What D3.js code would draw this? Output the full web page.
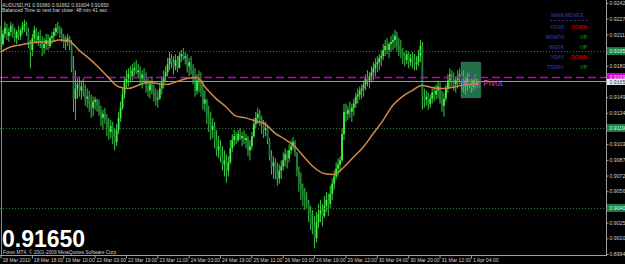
<!DOCTYPE html>
<html>
<head>
<meta charset="utf-8">
<script src="https://cdn.jsdelivr.net/npm/d3@7"></script>
<style>
  html, body { margin: 0; padding: 0; background: #000; }
  svg { display: block; }
  text { font-family: "Liberation Sans", Arial, sans-serif; }
</style>
</head>
<body>
<svg id="chart"></svg>
<script>
// AUDUSD H1 bars, 18 Mar 2010 - 1 Apr 2010
const firstOpen = 0.9210;

const highs = [
  0.9220,0.9216,0.9224,0.9222,0.9218,0.9224,0.9222,0.9218,0.9216,0.9220,
  0.9218,0.9224,0.9226,0.9224,0.9218,0.9206,0.9212,0.9220,0.9218,0.9214,
  0.9216,0.9210,0.9208,0.9212,0.9212,0.9210,0.9214,0.9218,0.9222,0.9224,
  0.9220,0.9218,0.9212,0.9210,0.9212,0.9210,0.9206,0.9190,0.9176,0.9168,
  0.9170,0.9166,0.9168,0.9162,0.9158,0.9156,0.9152,0.9150,0.9150,0.9148,
  0.9147,0.9141,0.9137,0.9139,0.9133,0.9129,0.9127,0.9125,0.9119,0.9123,
  0.9135,0.9145,0.9158,0.9170,0.9176,0.9178,0.9180,0.9182,0.9184,0.9186,
  0.9182,0.9180,0.9176,0.9178,0.9174,0.9168,0.9166,0.9170,0.9162,0.9158,
  0.9156,0.9164,0.9170,0.9176,0.9180,0.9188,0.9194,0.9192,0.9190,0.9192,
  0.9190,0.9194,0.9196,0.9198,0.9194,0.9192,0.9188,0.9190,0.9182,0.9178,
  0.9172,0.9176,0.9174,0.9166,0.9156,0.9148,0.9141,0.9135,0.9129,0.9125,
  0.9117,0.9111,0.9107,0.9101,0.9097,0.9093,0.9091,0.9107,0.9113,0.9117,
  0.9115,0.9117,0.9119,0.9115,0.9117,0.9113,0.9111,0.9107,0.9115,0.9129,
  0.9135,0.9139,0.9137,0.9131,0.9127,0.9125,0.9121,0.9109,0.9097,0.9091,
  0.9089,0.9085,0.9083,0.9087,0.9095,0.9099,0.9097,0.9103,0.9107,0.9110,
  0.9107,0.9095,0.9081,0.9075,0.9064,0.9060,0.9056,0.9048,0.9042,0.9038,
  0.9032,0.9036,0.9044,0.9048,0.9044,0.9052,0.9056,0.9054,0.9062,0.9069,
  0.9077,0.9085,0.9089,0.9091,0.9119,0.9143,0.9143,0.9141,0.9145,0.9143,
  0.9148,0.9154,0.9158,0.9160,0.9162,0.9166,0.9172,0.9176,0.9174,0.9180,
  0.9184,0.9188,0.9190,0.9192,0.9196,0.9202,0.9206,0.9208,0.9204,0.9210,
  0.9212,0.9216,0.9214,0.9208,0.9206,0.9198,0.9194,0.9196,0.9194,0.9192,
  0.9194,0.9192,0.9190,0.9196,0.9206,0.9204,0.9158,0.9156,0.9154,0.9152,
  0.9158,0.9160,0.9162,0.9166,0.9164,0.9156,0.9154,0.9162,0.9172,0.9178,
  0.9176,0.9174,0.9170,0.9176,0.9178,0.9174,0.9176,0.9170,0.9174,0.9172,
  0.9168,0.9170,0.9172,0.9168
];

const lows = [
  0.9196,0.9200,0.9208,0.9206,0.9204,0.9210,0.9208,0.9204,0.9202,0.9206,
  0.9206,0.9212,0.9214,0.9210,0.9198,0.9178,0.9190,0.9204,0.9202,0.9200,
  0.9198,0.9190,0.9192,0.9196,0.9196,0.9198,0.9202,0.9204,0.9210,0.9212,
  0.9208,0.9204,0.9198,0.9196,0.9200,0.9196,0.9174,0.9135,0.9127,0.9148,
  0.9150,0.9147,0.9150,0.9141,0.9139,0.9135,0.9129,0.9131,0.9137,0.9135,
  0.9131,0.9121,0.9117,0.9123,0.9111,0.9107,0.9109,0.9103,0.9097,0.9101,
  0.9113,0.9125,0.9137,0.9148,0.9158,0.9160,0.9164,0.9166,0.9170,0.9172,
  0.9168,0.9162,0.9158,0.9164,0.9154,0.9150,0.9148,0.9152,0.9145,0.9141,
  0.9139,0.9147,0.9152,0.9158,0.9164,0.9170,0.9176,0.9178,0.9172,0.9176,
  0.9174,0.9180,0.9184,0.9186,0.9182,0.9174,0.9170,0.9172,0.9162,0.9150,
  0.9152,0.9154,0.9150,0.9137,0.9135,0.9123,0.9115,0.9107,0.9109,0.9099,
  0.9091,0.9089,0.9085,0.9077,0.9071,0.9065,0.9071,0.9083,0.9095,0.9101,
  0.9103,0.9105,0.9107,0.9101,0.9103,0.9099,0.9091,0.9087,0.9097,0.9109,
  0.9119,0.9123,0.9121,0.9113,0.9109,0.9111,0.9103,0.9087,0.9073,0.9069,
  0.9068,0.9062,0.9064,0.9069,0.9077,0.9081,0.9079,0.9085,0.9093,0.9097,
  0.9091,0.9071,0.9056,0.9048,0.9042,0.9038,0.9040,0.9026,0.9018,0.9014,
  0.9000,0.9006,0.9020,0.9026,0.9022,0.9030,0.9036,0.9032,0.9040,0.9048,
  0.9058,0.9068,0.9071,0.9075,0.9085,0.9107,0.9125,0.9127,0.9129,0.9125,
  0.9131,0.9139,0.9143,0.9147,0.9148,0.9150,0.9156,0.9160,0.9158,0.9164,
  0.9166,0.9170,0.9174,0.9176,0.9180,0.9186,0.9190,0.9192,0.9188,0.9194,
  0.9196,0.9198,0.9194,0.9190,0.9188,0.9182,0.9180,0.9182,0.9178,0.9180,
  0.9178,0.9176,0.9176,0.9180,0.9184,0.9137,0.9139,0.9141,0.9137,0.9139,
  0.9143,0.9145,0.9147,0.9148,0.9143,0.9135,0.9130,0.9145,0.9154,0.9158,
  0.9160,0.9156,0.9154,0.9158,0.9162,0.9156,0.9154,0.9152,0.9156,0.9158,
  0.9154,0.9156,0.9158,0.9160
];

const closes = [
  0.9202,0.9212,0.9218,0.9210,0.9214,0.9220,0.9212,0.9208,0.9214,0.9210,
  0.9216,0.9220,0.9222,0.9214,0.9202,0.9196,0.9208,0.9216,0.9206,0.9210,
  0.9204,0.9198,0.9202,0.9206,0.9200,0.9208,0.9210,0.9214,0.9218,0.9216,
  0.9212,0.9208,0.9204,0.9206,0.9208,0.9202,0.9178,0.9148,0.9158,0.9162,
  0.9156,0.9160,0.9154,0.9148,0.9150,0.9143,0.9139,0.9145,0.9147,0.9141,
  0.9135,0.9129,0.9133,0.9127,0.9119,0.9115,0.9121,0.9111,0.9105,0.9117,
  0.9129,0.9139,0.9152,0.9164,0.9168,0.9172,0.9170,0.9176,0.9178,0.9174,
  0.9176,0.9168,0.9172,0.9166,0.9160,0.9156,0.9162,0.9154,0.9150,0.9147,
  0.9148,0.9158,0.9164,0.9170,0.9174,0.9182,0.9188,0.9184,0.9180,0.9186,
  0.9178,0.9190,0.9192,0.9188,0.9190,0.9180,0.9184,0.9176,0.9170,0.9156,
  0.9166,0.9162,0.9156,0.9143,0.9147,0.9131,0.9123,0.9117,0.9121,0.9107,
  0.9097,0.9101,0.9091,0.9083,0.9087,0.9077,0.9085,0.9099,0.9107,0.9111,
  0.9107,0.9113,0.9109,0.9111,0.9107,0.9109,0.9097,0.9101,0.9111,0.9123,
  0.9129,0.9133,0.9127,0.9123,0.9117,0.9119,0.9107,0.9091,0.9081,0.9085,
  0.9075,0.9069,0.9077,0.9081,0.9087,0.9093,0.9089,0.9097,0.9101,0.9105,
  0.9095,0.9077,0.9064,0.9058,0.9052,0.9048,0.9044,0.9034,0.9024,0.9022,
  0.9010,0.9026,0.9034,0.9038,0.9032,0.9042,0.9048,0.9044,0.9054,0.9064,
  0.9071,0.9079,0.9083,0.9087,0.9113,0.9135,0.9133,0.9137,0.9135,0.9139,
  0.9143,0.9150,0.9152,0.9156,0.9158,0.9162,0.9168,0.9166,0.9170,0.9174,
  0.9178,0.9182,0.9184,0.9188,0.9190,0.9196,0.9200,0.9196,0.9202,0.9204,
  0.9206,0.9210,0.9200,0.9196,0.9194,0.9190,0.9186,0.9192,0.9184,0.9188,
  0.9186,0.9182,0.9184,0.9190,0.9200,0.9150,0.9147,0.9150,0.9143,0.9148,
  0.9154,0.9152,0.9156,0.9160,0.9147,0.9141,0.9148,0.9158,0.9166,0.9172,
  0.9168,0.9162,0.9166,0.9170,0.9172,0.9164,0.9160,0.9164,0.9168,0.9162,
  0.9160,0.9166,0.9162,0.9165
];

// moving average, sampled every 5 bars
const maIndex = [0,5,10,15,20,25,30,35,40,45,50,55,60,65,70,75,80,85,90,95,
  100,105,110,115,120,125,130,135,140,145,150,155,160,165,170,175,180,185,190,195,
  200,205,210,215,220,225,230,235,240,243];
const maValues = [0.9194,0.9199,0.9201,0.9203,0.9204,0.9204,0.9206,0.9205,0.9196,0.9188,
  0.9179,0.9169,0.9160,0.9158,0.9161,0.9164,0.9163,0.9162,0.9165,0.9168,
  0.9169,0.9158,0.9148,0.9140,0.9131,0.9129,0.9126,0.9123,0.9114,0.9108,
  0.9101,0.9090,0.9080,0.9074,0.9073,0.9080,0.9090,0.9100,0.9113,0.9126,
  0.9141,0.9150,0.9156,0.9161,0.9159,0.9158,0.9159,0.9161,0.9162,0.9163];

const priceTicks = [0.92425,0.92270,0.92115,0.91960,0.91805,0.91650,0.91495,0.91340,
  0.91185,0.91030,0.90875,0.90720,0.90565,0.90410,0.90255,0.90100,0.89945];

const timeTickIndex = [0,16,32,48,64,80,96,112,128,144,160,176,192,208,224,240];
const timeTickLabels = ['18 Mar 2010','18 Mar 18:00','19 Mar 10:00','22 Mar 03:00',
  '22 Mar 19:00','23 Mar 11:00','24 Mar 03:00','24 Mar 19:00','25 Mar 11:00',
  '26 Mar 03:00','26 Mar 19:00','29 Mar 12:00','30 Mar 04:00','30 Mar 20:00',
  '31 Mar 12:00','1 Apr 04:00'];

const levelPrices = [0.91950, 0.91190, 0.90400];
const pivotPrice = 0.91694;
const bidPrice = 0.91650;
const todayBox = [235, 245, 0.91840, 0.91490]; // first bar, last bar, top, bottom

const moveNames = ['YEAR', 'MONTH', 'WEEK', 'YDAY', 'TODAY'];
const moveDirs = ['DOWN', 'UP', 'UP', 'DOWN', 'UP'];

const headerLines = ['AUDUSD,H1  0.91660 0.91662 0.91604 0.91650',
  'Balanced Time to next bar close: 48 min 41 sec'];

// ---------------------------------------------------------------
let width = 625, height = 264;
let plotRight = 606, plotBottom = 255;

let svg = d3.select('#chart')
  .attr('width', width)
  .attr('height', height);

svg.append('rect')
  .attr('width', width)
  .attr('height', height)
  .attr('fill', '#000');

let xScale = d3.scaleLinear()
  .domain([0, 243])
  .range([0.5, 0.5 + 243 * 1.96]);

let yScale = d3.scaleLinear()
  .domain([0.89945, 0.92425])
  .range([254, 3]);

let bars = closes.map((c, i) => ({
  i: i,
  o: i ? closes[i - 1] : firstOpen,
  h: highs[i],
  l: lows[i],
  c: c
}));

// today range box
svg.append('rect')
  .attr('x', xScale(todayBox[0]))
  .attr('y', yScale(todayBox[2]))
  .attr('width', xScale(todayBox[1]) - xScale(todayBox[0]))
  .attr('height', yScale(todayBox[3]) - yScale(todayBox[2]))
  .attr('fill', '#22704a')
  .attr('stroke', '#3c9a66')
  .attr('stroke-dasharray', '1,1')
  .attr('stroke-width', 1);

// candles
let candles = svg.append('g');
candles.selectAll('.wick')
  .data(bars)
  .enter()
  .append('line')
  .attr('class', 'wick')
  .attr('x1', d => xScale(d.i) + 0.5)
  .attr('x2', d => xScale(d.i) + 0.5)
  .attr('y1', d => yScale(d.h))
  .attr('y2', d => yScale(d.l))
  .attr('stroke', '#36c83c')
  .attr('stroke-width', 1);

candles.selectAll('.body')
  .data(bars)
  .enter()
  .append('rect')
  .attr('class', 'body')
  .attr('x', d => xScale(d.i) - 0.4)
  .attr('width', 1.8)
  .attr('y', d => yScale(Math.max(d.o, d.c)))
  .attr('height', d => Math.max(1, Math.abs(yScale(d.o) - yScale(d.c))))
  .attr('fill', d => d.c >= d.o ? '#44f044' : '#207a44');

// horizontal levels
svg.selectAll('.level')
  .data(levelPrices)
  .enter()
  .append('line')
  .attr('class', 'level')
  .attr('x1', 0)
  .attr('x2', plotRight)
  .attr('y1', d => Math.round(yScale(d)) + 0.5)
  .attr('y2', d => Math.round(yScale(d)) + 0.5)
  .attr('stroke', '#2e7a2e')
  .attr('stroke-dasharray', '1,2');

svg.append('line')
  .attr('x1', 0)
  .attr('x2', plotRight)
  .attr('y1', Math.round(yScale(bidPrice)) + 0.5)
  .attr('y2', Math.round(yScale(bidPrice)) + 0.5)
  .attr('stroke', '#9a9aa4');

svg.append('line')
  .attr('x1', 0)
  .attr('x2', plotRight)
  .attr('y1', Math.round(yScale(pivotPrice)) + 0.5)
  .attr('y2', Math.round(yScale(pivotPrice)) + 0.5)
  .attr('stroke', '#c000c0')
  .attr('stroke-width', 1.3)
  .attr('stroke-dasharray', '8,4');

// moving average
let maLine = d3.line()
  .x((d, k) => xScale(maIndex[k]))
  .y(d => yScale(d))
  .curve(d3.curveMonotoneX);

svg.append('path')
  .datum(maValues)
  .attr('d', maLine)
  .attr('fill', 'none')
  .attr('stroke', '#cf8a48')
  .attr('stroke-width', 1.5);

svg.append('text')
  .attr('x', xScale(todayBox[0]) + 1)
  .attr('y', yScale(pivotPrice) + 9)
  .attr('font-size', 8.5)
  .attr('fill', '#d040d0')
  .text('Daily Pivot');

// left edge line
svg.append('line')
  .attr('x1', 1.5).attr('x2', 1.5)
  .attr('y1', 0).attr('y2', plotBottom)
  .attr('stroke', '#8a8a8a');

// main moves table
let table = svg.append('g')
  .attr('font-size', 5)
  .attr('font-weight', 'bold');

table.append('text')
  .attr('x', 551)
  .attr('y', 17)
  .attr('fill', '#2c2c8c')
  .text('MAIN MOVES');

table.append('line')
  .attr('x1', 550).attr('x2', 588)
  .attr('y1', 20.5).attr('y2', 20.5)
  .attr('stroke', '#2c2c8c')
  .attr('stroke-dasharray', '2,2');

table.selectAll('.mname')
  .data(moveNames)
  .enter()
  .append('text')
  .attr('x', 564)
  .attr('y', (d, k) => 29 + k * 10)
  .attr('text-anchor', 'end')
  .attr('fill', '#2c2c8c')
  .text(d => d);

table.selectAll('.mdir')
  .data(moveDirs)
  .enter()
  .append('text')
  .attr('x', 587)
  .attr('y', (d, k) => 29 + k * 10)
  .attr('text-anchor', 'end')
  .attr('fill', d => d === 'UP' ? '#1c7a1c' : '#b80000')
  .text(d => d);

// header lines
svg.selectAll('.hdr')
  .data(headerLines)
  .enter()
  .append('text')
  .attr('x', 2)
  .attr('y', (d, k) => 6.5 + k * 5.5)
  .attr('font-size', 5)
  .attr('fill', '#d8d8d8')
  .text(d => d);

svg.append('text')
  .attr('x', 2)
  .attr('y', 247)
  .attr('font-size', 23)
  .attr('font-weight', 'bold')
  .attr('fill', '#fff')
  .text(d3.format('.5f')(bidPrice));

svg.append('text')
  .attr('x', 3)
  .attr('y', 253.5)
  .attr('font-size', 4.8)
  .attr('fill', '#d0d0d0')
  .text('Forex MT4, \u00a9 2001-2009 MetaQuotes Software Corp.');

// axes
svg.append('line')
  .attr('x1', plotRight + 0.5).attr('x2', plotRight + 0.5)
  .attr('y1', 0).attr('y2', plotBottom + 1)
  .attr('stroke', '#a0a0a0');

svg.append('line')
  .attr('x1', 0).attr('x2', plotRight + 1)
  .attr('y1', plotBottom + 0.5).attr('y2', plotBottom + 0.5)
  .attr('stroke', '#a0a0a0');

let yAxis = svg.append('g')
  .attr('transform', `translate(${plotRight + 0.5},0)`)
  .call(d3.axisRight(yScale)
    .tickValues(priceTicks)
    .tickFormat(d3.format('.5f'))
    .tickSize(2)
    .tickSizeOuter(0));
yAxis.select('.domain').remove();
yAxis.selectAll('line').attr('stroke', '#a0a0a0');
yAxis.selectAll('text')
  .attr('x', 3)
  .attr('font-size', 5.2)
  .attr('font-family', '"Liberation Sans", Arial, sans-serif')
  .attr('fill', '#d0d0d0');

let xAxis = svg.append('g')
  .attr('transform', `translate(0,${plotBottom + 0.5})`)
  .call(d3.axisBottom(xScale)
    .tickValues(timeTickIndex)
    .tickFormat((d, k) => timeTickLabels[k])
    .tickSize(3)
    .tickSizeOuter(0));
xAxis.select('.domain').remove();
xAxis.selectAll('line').attr('stroke', '#a0a0a0');
xAxis.selectAll('text')
  .attr('text-anchor', 'start')
  .attr('x', 1.5)
  .attr('y', 3)
  .attr('font-size', 5)
  .attr('font-family', '"Liberation Sans", Arial, sans-serif')
  .attr('fill', '#d0d0d0');

// price tags on the axis
let tags = levelPrices.map(p => ({ p: p, bg: '#14804a', fg: '#e0ffe8' }))
  .concat([{ p: pivotPrice, bg: '#d000d0', fg: '#ffe0ff' },
           { p: bidPrice, bg: '#f0f0f0', fg: '#303030' }]);

let tag = svg.selectAll('.tag')
  .data(tags)
  .enter()
  .append('g')
  .attr('transform', d => `translate(${plotRight + 1},${yScale(d.p)})`);

tag.append('rect')
  .attr('x', 0)
  .attr('y', d => d.p === bidPrice ? -2.5 : -4)
  .attr('width', width - plotRight)
  .attr('height', d => d.p === bidPrice ? 6 : 8)
  .attr('fill', d => d.bg);

tag.append('text')
  .attr('x', 2.5)
  .attr('y', d => d.p === bidPrice ? 2.5 : 1.8)
  .attr('font-size', 5.2)
  .attr('fill', d => d.fg)
  .text(d => d3.format('.5f')(d.p));
</script>
</body>
</html>
